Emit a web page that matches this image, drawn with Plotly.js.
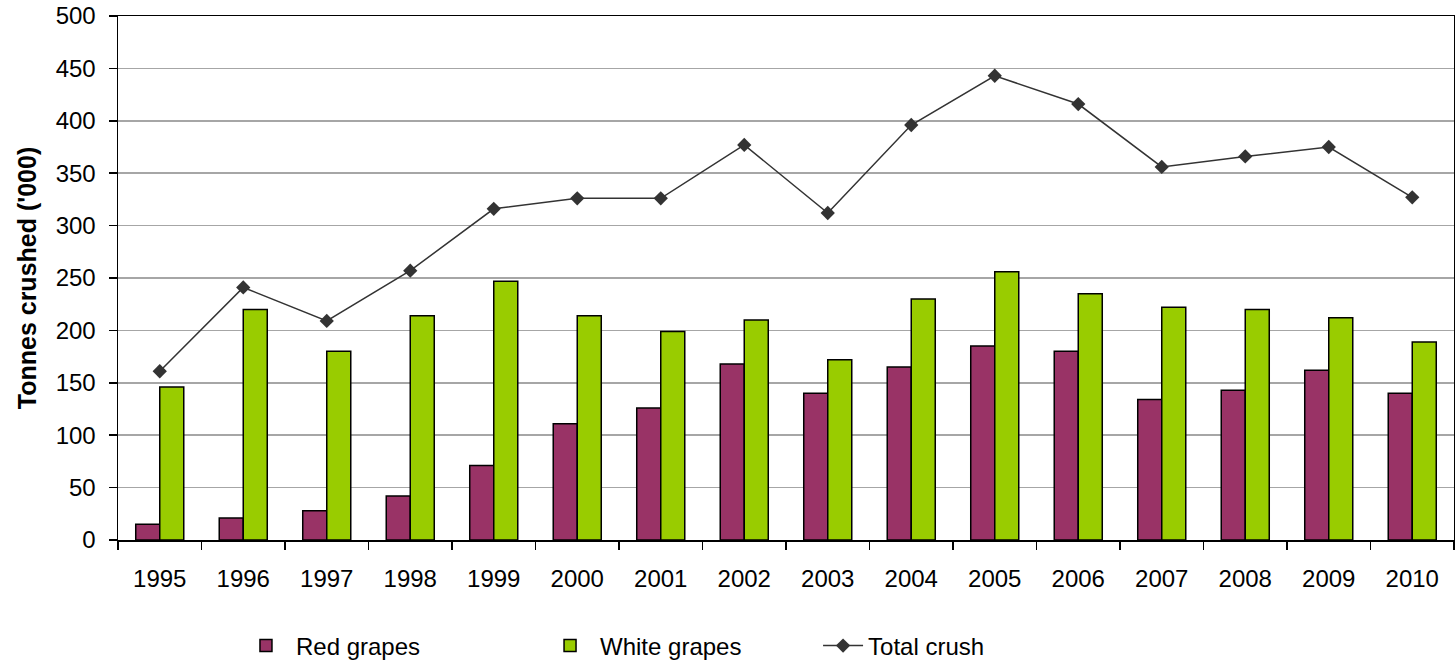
<!DOCTYPE html>
<html>
<head>
<meta charset="utf-8">
<script src="https://cdn.plot.ly/plotly-3.0.1.min.js"></script>
<style>
html,body{margin:0;padding:0;background:#fff;}
#chart{width:1455px;height:660px;}
</style>
</head>
<body>
<div id="chart"></div>
<script>
const years = ['1995','1996','1997','1998','1999','2000','2001','2002','2003','2004','2005','2006','2007','2008','2009','2010'];
const redGrapes = [15, 21, 28, 42, 71, 111, 126, 168, 140, 165, 185, 180, 134, 143, 162, 140];
const whiteGrapes = [146, 220, 180, 214, 247, 214, 199, 210, 172, 230, 256, 235, 222, 220, 212, 189];
const totalCrush = [161, 241, 209, 257, 316, 326, 326, 377, 312, 396, 443, 416, 356, 366, 375, 327];

const fam = 'Liberation Sans, Arial, sans-serif';
const font = {family: fam, size: 24, color: '#000'};

const traces = [
  {type: 'bar', name: 'Red grapes', x: years, y: redGrapes, legend: 'legend',
   marker: {color: '#993366', line: {color: '#000', width: 1.5}}},
  {type: 'bar', name: 'White grapes', x: years, y: whiteGrapes, legend: 'legend2',
   marker: {color: '#99CC00', line: {color: '#000', width: 1.5}}},
  {type: 'scatter', mode: 'lines+markers', name: 'Total crush', x: years, y: totalCrush, legend: 'legend3',
   line: {color: '#333333', width: 1.5},
   marker: {symbol: 'diamond', size: 11, color: '#333333'}}
];

const legBase = {orientation: 'h', xanchor: 'left', y: -0.2023, yanchor: 'middle',
                 font: font, bgcolor: 'rgba(0,0,0,0)'};

const layout = {
  width: 1455, height: 660,
  margin: {l: 118, r: 1, t: 16, b: 120, autoexpand: false},
  paper_bgcolor: '#fff', plot_bgcolor: '#fff',
  font: font,
  barmode: 'group', bargap: 0.425, bargroupgap: 0,
  showlegend: true,
  legend: Object.assign({}, legBase, {x: 0.0883, itemwidth: 50}),
  legend2: Object.assign({}, legBase, {x: 0.3159, itemwidth: 50}),
  legend3: Object.assign({}, legBase, {x: 0.524, itemwidth: 40}),
  xaxis: {type: 'category', range: [-0.5, 15.5], autorange: false, automargin: false,
          showline: true, linecolor: '#000', linewidth: 1.5, mirror: true,
          ticks: 'outside', tickson: 'boundaries', ticklen: 8, tickcolor: '#000', tickwidth: 1.5,
          showgrid: false, tickfont: font, ticklabelstandoff: 17},
  yaxis: {range: [0, 500], autorange: false, automargin: false, dtick: 50,
          showline: true, linecolor: '#000', linewidth: 1.5, mirror: true,
          ticks: 'outside', ticklen: 8, tickcolor: '#000', tickwidth: 1.5,
          showgrid: true, gridcolor: '#a6a6a6', gridwidth: 1.5, zeroline: false,
          tickfont: font, ticklabelstandoff: 8,
          title: {text: "Tonnes crushed ('000)", font: {family: fam, size: 25, color: '#000', weight: 'bold'}, standoff: 12}}
};

Plotly.newPlot('chart', traces, layout, {displayModeBar: false, staticPlot: true});
</script>
</body>
</html>
